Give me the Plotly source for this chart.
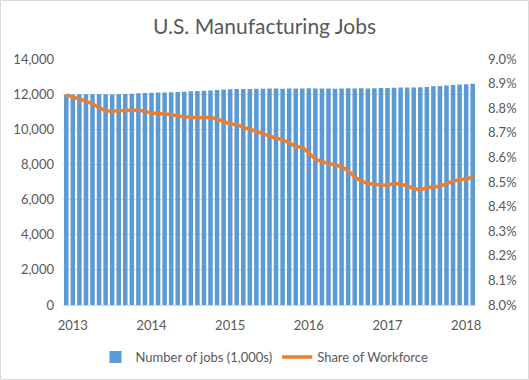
import plotly.graph_objects as go

# Months Dec 2012 .. Feb 2018
months = []
y, m = 2012, 12
for _ in range(63):
    months.append(f"{y}-{m:02d}")
    m += 1
    if m > 12:
        m = 1
        y += 1

jobs = [11960,
        11979, 11993, 11993, 11995, 11993, 11996, 11978, 12000, 12009, 12026, 12054, 12064,
        12076, 12092, 12098, 12111, 12121, 12135, 12163, 12176, 12186, 12205, 12238, 12265,
        12283, 12290, 12292, 12299, 12304, 12306, 12322, 12317, 12312, 12316, 12319, 12322,
        12340, 12327, 12318, 12323, 12313, 12322, 12330, 12326, 12329, 12323, 12329, 12343,
        12348, 12367, 12378, 12383, 12385, 12397, 12413, 12449, 12460, 12487, 12521, 12547,
        12563, 12594]

share = [8.854, 8.846, 8.837, 8.829, 8.817, 8.801, 8.789, 8.789, 8.790, 8.791,
         8.795, 8.793, 8.787, 8.780, 8.778, 8.776, 8.774, 8.768, 8.764, 8.763,
         8.761, 8.762, 8.763, 8.756, 8.746, 8.736, 8.734, 8.722, 8.715, 8.705,
         8.697, 8.687, 8.679, 8.671, 8.659, 8.644, 8.642, 8.618, 8.593, 8.583,
         8.575, 8.569, 8.563, 8.545, 8.520, 8.504, 8.494, 8.490, 8.488, 8.488,
         8.494, 8.492, 8.484, 8.478, 8.467, 8.478, 8.482, 8.483, 8.492, 8.504,
         8.509, 8.512, 8.520]
share = [v / 100 for v in share]

year_ticks = ["2013-01", "2014-01", "2015-01", "2016-01", "2017-01", "2018-01"]
year_labels = ["2013", "2014", "2015", "2016", "2017", "2018"]

font_family = "Lato, 'Open Sans', sans-serif"
grey = "#595959"

fig = go.Figure()
fig.add_trace(go.Bar(
    x=months, y=jobs, name="Number of jobs (1,000s)",
    marker=dict(color="#5B9BD5", line=dict(width=0)),
    yaxis="y",
))
fig.add_trace(go.Scatter(
    x=months, y=share, name="Share of Workforce", mode="lines",
    line=dict(color="#ED7D31", width=3.5),
    yaxis="y2",
))

fig.update_layout(
    width=529, height=380,
    margin=dict(l=63, r=53, t=59, b=75),
    paper_bgcolor="white", plot_bgcolor="white",
    font=dict(family=font_family, size=13, color=grey),
    title=dict(text="U.S. Manufacturing Jobs", x=0.5, xanchor="center",
               y=1 - 27 / 380, yanchor="middle",
               font=dict(size=21, color=grey, family=font_family)),
    bargap=0.31,
    showlegend=True,
    legend=dict(orientation="h", x=0.5, xanchor="center", xref="container",
                y=1 - 357 / 380, yanchor="middle", yref="container",
                font=dict(size=13, color=grey), itemwidth=30, traceorder="normal"),
    xaxis=dict(type="category", tickvals=year_ticks, ticktext=year_labels,
               showgrid=False, showline=True, linecolor="#D9D9D9", linewidth=1,
               ticks="", ticklabelstandoff=8, automargin=False,
               tickfont=dict(size=13, color=grey)),
    yaxis=dict(range=[0, 14000], dtick=2000, tickformat=",", showgrid=True,
               gridcolor="#D9D9D9", gridwidth=1, zeroline=False, ticks="",
               ticklabelstandoff=8, automargin=False,
               tickfont=dict(size=13, color=grey)),
    yaxis2=dict(range=[0.08, 0.09], dtick=0.001, tickformat=".1%", overlaying="y",
                side="right", showgrid=False, zeroline=False, ticks="",
                ticklabelstandoff=11, automargin=False,
                tickfont=dict(size=13, color=grey)),
)

fig.add_shape(type="rect", xref="paper", yref="paper",
              x0=-62.5 / 413, x1=1 + 52.5 / 413, y0=-74.5 / 246, y1=1 + 58.5 / 246,
              line=dict(color="#D9D9D9", width=1), fillcolor="rgba(0,0,0,0)", layer="below")

fig.write_html("out.html", config={"displayModeBar": False},
               post_script="document.body.style.margin='0px';")
